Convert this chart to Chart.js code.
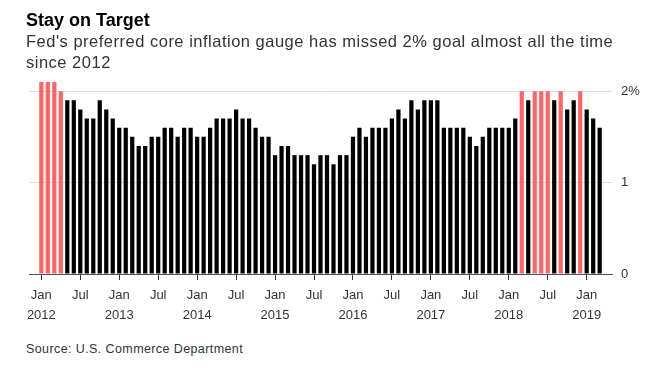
<!DOCTYPE html>
<html>
<head>
<meta charset="utf-8">
<script src="https://cdn.jsdelivr.net/npm/chart.js@4.4.1/dist/chart.umd.min.js"></script>
<style>
  body { margin: 0; width: 651px; height: 374px; background: #fff; position: relative; overflow: hidden;
         font-family: 'Liberation Sans', Arial, Helvetica, sans-serif; }
  #title { position: absolute; left: 26px; top: 11px; font-size: 18px; line-height: 1; font-weight: bold; color: #000; }
  #subtitle { position: absolute; left: 26px; top: 31px; font-size: 16.5px; line-height: 21px; letter-spacing: 0.5px; color: #333; }
  #source { position: absolute; left: 26px; top: 343px; font-size: 12.5px; line-height: 1; letter-spacing: 0.4px; color: #333; }
  #chartBox { position: absolute; left: 0; top: 0; width: 651px; height: 330px; }
</style>
</head>
<body>
<div id="chartBox"><canvas id="myChart"></canvas></div>
<div id="title">Stay on Target</div>
<div id="subtitle">Fed's preferred core inflation gauge has missed 2% goal almost all the time<br>since 2012</div>
<div id="source">Source: U.S. Commerce Department</div>

<script>
// DATA - core PCE price index, % change from a year earlier
const months = [
    'Jan 2012', 'Feb 2012', 'Mar 2012', 'Apr 2012', 'May 2012', 'Jun 2012', 'Jul 2012', 'Aug 2012', 'Sep 2012', 'Oct 2012', 'Nov 2012', 'Dec 2012',
    'Jan 2013', 'Feb 2013', 'Mar 2013', 'Apr 2013', 'May 2013', 'Jun 2013', 'Jul 2013', 'Aug 2013', 'Sep 2013', 'Oct 2013', 'Nov 2013', 'Dec 2013',
    'Jan 2014', 'Feb 2014', 'Mar 2014', 'Apr 2014', 'May 2014', 'Jun 2014', 'Jul 2014', 'Aug 2014', 'Sep 2014', 'Oct 2014', 'Nov 2014', 'Dec 2014',
    'Jan 2015', 'Feb 2015', 'Mar 2015', 'Apr 2015', 'May 2015', 'Jun 2015', 'Jul 2015', 'Aug 2015', 'Sep 2015', 'Oct 2015', 'Nov 2015', 'Dec 2015',
    'Jan 2016', 'Feb 2016', 'Mar 2016', 'Apr 2016', 'May 2016', 'Jun 2016', 'Jul 2016', 'Aug 2016', 'Sep 2016', 'Oct 2016', 'Nov 2016', 'Dec 2016',
    'Jan 2017', 'Feb 2017', 'Mar 2017', 'Apr 2017', 'May 2017', 'Jun 2017', 'Jul 2017', 'Aug 2017', 'Sep 2017', 'Oct 2017', 'Nov 2017', 'Dec 2017',
    'Jan 2018', 'Feb 2018', 'Mar 2018', 'Apr 2018', 'May 2018', 'Jun 2018', 'Jul 2018', 'Aug 2018', 'Sep 2018', 'Oct 2018', 'Nov 2018', 'Dec 2018',
    'Jan 2019', 'Feb 2019', 'Mar 2019'
];

const corePce = [
    2.1, 2.1, 2.1, 2.0, 1.9, 1.9, 1.8, 1.7, 1.7, 1.9, 1.8, 1.7,
    1.6, 1.6, 1.5, 1.4, 1.4, 1.5, 1.5, 1.6, 1.6, 1.5, 1.6, 1.6,
    1.5, 1.5, 1.6, 1.7, 1.7, 1.7, 1.8, 1.7, 1.7, 1.6, 1.5, 1.5,
    1.3, 1.4, 1.4, 1.3, 1.3, 1.3, 1.2, 1.3, 1.3, 1.2, 1.3, 1.3,
    1.5, 1.6, 1.5, 1.6, 1.6, 1.6, 1.7, 1.8, 1.7, 1.9, 1.8, 1.9,
    1.9, 1.9, 1.6, 1.6, 1.6, 1.6, 1.5, 1.4, 1.5, 1.6, 1.6, 1.6,
    1.6, 1.7, 2.0, 1.9, 2.0, 2.0, 2.0, 1.9, 2.0, 1.8, 1.9, 2.0,
    1.8, 1.7, 1.6
];

const TARGET = 2.0;                // Fed goal, bars at or above it are red
const tickMonths = ['Jan', 'Jul']; // months that get a tick + label
const yTickLabels = { 0: '0', 1: '1', 2: '2%' };

const RED = '#ff6464';
const BLACK = '#000000';

/**********************************************************************************
 * BUILD DATASET
 *********************************************************************************/

// linear x axis (index per month) so there is room at both ends like the original
var points = corePce.map((v, i) => ({ x: i, y: v }));
var barColors = corePce.map(v => v >= TARGET ? RED : BLACK);

var tickIndexes = [];
months.forEach((m, i) => {
    if (tickMonths.includes(m.split(' ')[0])) tickIndexes.push(i);
});

function xLabel(value) {
    const parts = months[value].split(' ');
    // Jan gets the year underneath
    return parts[0] === 'Jan' ? [parts[0], parts[1]] : parts[0];
}

/**********************************************************************************
 * GRAPHING
 *********************************************************************************/

const ctx = document.getElementById('myChart');
const labelFont = { family: "'Liberation Sans', Arial, sans-serif", size: 13, lineHeight: 1.5 };

var chart = new Chart(ctx, {
    type: 'bar',
    data: {
        datasets: [{
            data: points,
            backgroundColor: barColors,
            borderWidth: 0,
            categoryPercentage: 1,
            barPercentage: 0.65
        }]
    },
    options: {
        animation: false,
        responsive: true,
        maintainAspectRatio: false,
        layout: { padding: { left: 29, top: 82, right: 0, bottom: 0 } },
        plugins: {
            legend: { display: false },
            tooltip: { enabled: false }
        },
        scales: {
            x: {
                type: 'linear',
                min: -1.9,
                max: corePce.length - 1 + 1.9,
                offset: false,
                grid: { drawOnChartArea: false, offset: false, tickLength: 6, tickColor: '#333' },
                border: { color: '#555', z: 2 },
                afterBuildTicks: (scale) => {
                    scale.ticks = tickIndexes.map(v => ({ value: v }));
                },
                afterFit: (scale) => { scale.height = 56; },
                ticks: {
                    autoSkip: false,
                    maxRotation: 0,
                    padding: 6,
                    color: '#333',
                    font: labelFont,
                    callback: (value) => xLabel(value)
                }
            },
            y: {
                position: 'right',
                min: 0,
                max: 2.1,
                grid: {
                    drawTicks: false,
                    color: (c) => c.tick && c.tick.value === 0 ? 'rgba(0,0,0,0)' : '#dedede'
                },
                border: { display: false },
                afterFit: (scale) => { scale.width = 39; },
                ticks: {
                    stepSize: 1,
                    includeBounds: false,
                    padding: 9,
                    color: '#333',
                    font: { family: labelFont.family, size: 13 },
                    callback: (value) => yTickLabels[value]
                }
            }
        }
    }
});
</script>
</body>
</html>
